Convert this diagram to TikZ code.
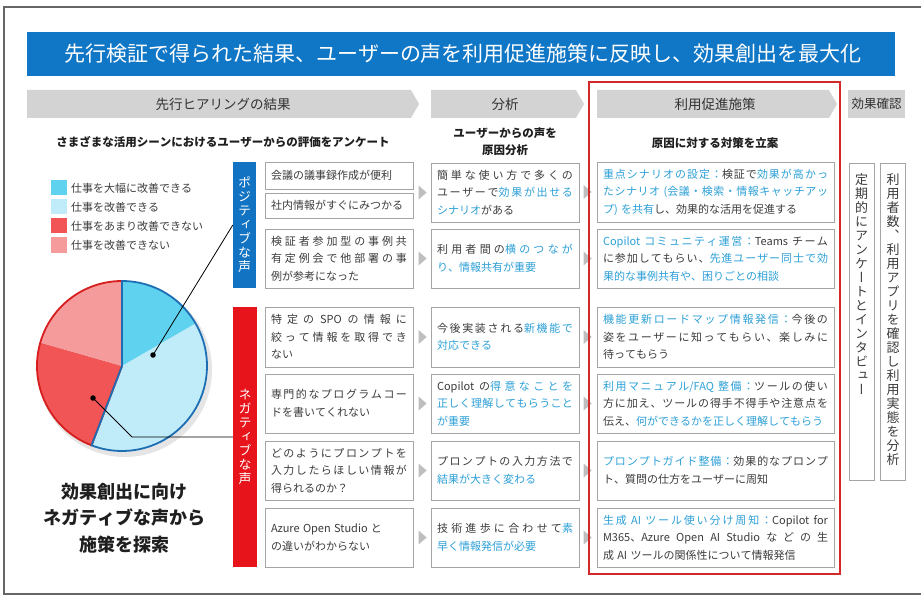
\documentclass[tikz,border=0pt]{standalone}
\usepackage{fontspec}
\setmainfont{Noto Sans CJK JP}
\newfontfamily\vjp[RawFeature=+vert]{Noto Sans CJK JP}
\XeTeXinterchartokenstate=1
\newcount\cjkc
\def\setcjkclass#1#2{\cjkc=#1\relax\loop\ifnum\cjkc<#2\relax\XeTeXcharclass\cjkc=1\relax\advance\cjkc by 1\relax\repeat}
\setcjkclass{"3000}{"3100}
\setcjkclass{"4E00}{"A000}
\setcjkclass{"FF00}{"FFF0}
\XeTeXinterchartoks 1 1 = {\hskip 0pt plus 3pt\relax}
\tolerance=9999 \hbadness=10000 \hfuzz=3pt
\newskip\boxspace
\boxspace=3.3pt plus 1.5pt minus 0.5pt
\newcommand\boxfont{\fontsize{11}{17.5}\selectfont\spaceskip\boxspace}
\definecolor{ttlblue}{RGB}{16,118,198}
\definecolor{hdrgray}{RGB}{211,211,211}
\definecolor{boxgray}{RGB}{165,165,165}
\definecolor{txt}{RGB}{60,60,60}
\definecolor{hlc}{RGB}{45,160,215}
\definecolor{posblue}{RGB}{18,115,195}
\definecolor{negred}{RGB}{232,20,27}
\definecolor{frred}{RGB}{210,40,40}
\definecolor{pcyan}{RGB}{95,210,240}
\definecolor{plcyan}{RGB}{192,236,250}
\definecolor{pred}{RGB}{242,85,85}
\definecolor{plred}{RGB}{245,155,155}
\definecolor{pieblue}{RGB}{30,110,180}
\definecolor{piered}{RGB}{215,30,30}
\definecolor{arrgray}{RGB}{190,190,190}
\newcommand\hlt[1]{\textcolor{hlc}{#1}}
\makeatletter
\newcommand\vtxt[1]{\vbox{\@tfor\vch:=#1\do{\hbox to 1em{\hss\vch\hss}}}}
\makeatother
\begin{document}
\begin{tikzpicture}[x=1pt,y=-1pt,
  box/.style={draw=boxgray, line width=0.8pt, fill=white, align=justify, text=txt,
    font=\boxfont, inner xsep=6pt, inner ysep=1pt, text width=136pt, minimum height=#1},
  pbox/.style={box=#1, text width=225pt},
  hdrtx/.style={text=black!80, font=\fontsize{13.5}{16}\selectfont},
  sub/.style={text=black!88, font=\bfseries\fontsize{11.5}{17}\selectfont, align=center},
  legsq/.style={minimum width=16pt, minimum height=15pt, inner sep=0pt},
  legtx/.style={text=txt, font=\fontsize{11}{13}\selectfont, anchor=west, inner sep=0pt},
  vbar/.style={inner sep=0pt, text=white, font=\vjp\fontsize{13}{14}\selectfont},
  vbx/.style={draw=boxgray, line width=0.8pt, fill=white, minimum width=25pt, minimum height=317pt, inner sep=0pt},
  vtx/.style={anchor=north, inner sep=0pt, text=txt, font=\vjp\fontsize{13}{14}\selectfont},
  dot/.style={circle, fill=black, inner sep=0pt, minimum size=5.5pt},
  ptr/.style={draw=black, line width=0.8pt},
  tri/.style={fill=arrgray}]
\useasboundingbox (0,0) rectangle (921,596);
\fill[white] (0,0) rectangle (921,596);
\draw[black!60, line width=1.2pt] (921,7) -- (4,7) -- (4,594) -- (921,594);

% title
\fill[ttlblue] (27,32) rectangle (895,76);
\node[text=white, font=\fontsize{21}{25}\selectfont] (title) at (463,54) {先行検証で得られた結果、ユーザーの声を利用促進施策に反映し、効果創出を最大化};

% headers
\fill[hdrgray] (27,90) -- (411,90) -- (419,104) -- (411,118) -- (27,118) -- cycle;
\fill[hdrgray] (431,90) -- (576,90) -- (584,104) -- (576,118) -- (431,118) -- cycle;
\fill[hdrgray] (597,90) -- (829,90) -- (837,104) -- (829,118) -- (597,118) -- cycle;
\fill[hdrgray] (848,90) rectangle (905,118);
\node[hdrtx] (h1) at (223,104) {先行ヒアリングの結果};
\node[hdrtx] (h2) at (505,104) {分析};
\node[hdrtx] (h3) at (715,104) {利用促進施策};
\node[hdrtx, font=\fontsize{12.5}{15}\selectfont] (h4) at (876.5,104) {効果確認};

% subtitles
\node[sub] (s1) at (223,142) {さまざまな活用シーンにおけるユーザーからの評価をアンケート};
\node[sub] (s2) at (505,142) {ユーザーからの声を\\原因分析};
\node[sub] (s3) at (715,143) {原因に対する対策を立案};

% legend
\node[legsq, fill=pcyan] (lg1) at (59,188) {};
\node[legsq, fill=plcyan] (lg2) at (59,207) {};
\node[legsq, fill=pred] (lg3) at (59,226) {};
\node[legsq, fill=plred] (lg4) at (59,245) {};
\node[legtx] (lt1) at (71,188) {仕事を大幅に改善できる};
\node[legtx] (lt2) at (71,207) {仕事を改善できる};
\node[legtx] (lt3) at (71,226) {仕事をあまり改善できない};
\node[legtx] (lt4) at (71,245) {仕事を改善できない};

% pie
\coordinate (pc) at (122,366);
\fill[black, opacity=0.10] (125,370) circle[radius=87];
\fill[pcyan] (pc) -- ++(-90:85) arc[start angle=-90, end angle=-30, radius=85] -- cycle;
\fill[plcyan] (pc) -- ++(-30:85) arc[start angle=-30, end angle=111, radius=85] -- cycle;
\fill[pred] (pc) -- ++(111:85) arc[start angle=111, end angle=196, radius=85] -- cycle;
\fill[plred] (pc) -- ++(196:85) arc[start angle=196, end angle=270, radius=85] -- cycle;
\draw[piered, line width=1.8pt, line join=round] (pc) -- ++(111:85) arc[start angle=111, end angle=270, radius=85] -- cycle;
\draw[pieblue, line width=1.8pt, line join=round] (pc) -- ++(-90:85) arc[start angle=-90, end angle=111, radius=85] -- cycle;

% bars
\node[vbar, fill=posblue, minimum width=23pt, minimum height=126pt] (posbar) at (244.5,225) {\vtxt{ポジティブな声}};
\node[vbar, fill=negred, minimum width=24pt, minimum height=260pt] (negbar) at (245,437) {\vtxt{ネガティブな声}};

% pointers
\node[dot] (dP) at (153,355) {};
\node[dot] (dN) at (93,398) {};
\coordinate (nbend) at (132,437);
\draw[ptr] (dP.center) -- (posbar.west);
\draw[ptr] (dN.center) -- (nbend) -- (negbar.west);

% left column
\node[box=27pt] (l1) at (339,175.5) {会議の議事録作成が便利};
\node[box=25pt] (l2) at (339,205.5) {社内情報がすぐにみつかる};
\node[box=59pt] (l3) at (339,258.5) {検証者参加型の事例共\linebreak 有定例会で他部署の事\linebreak 例が参考になった};
\node[box=60pt] (l4) at (339,337) {特定の SPO の情報に\linebreak 絞って情報を取得でき\linebreak ない};
\node[box=59pt] (l5) at (339,403.5) {専門的なプログラムコー\linebreak ドを書いてくれない};
\node[box=59pt] (l6) at (339,470.5) {どのようにプロンプトを\linebreak 入力したらほしい情報が\linebreak 得られるのか？};
\node[box=59pt] (l7) at (339,537.5) {Azure Open Studio と\newline の違いがわからない};

% analysis column
\node[box=59pt] (a1) at (505,192.5) {簡単な使い方で多くの\linebreak ユーザーで\hlt{効果が出せる}\linebreak \hlt{シナリオ}がある};
\node[box=59pt] (a2) at (505,258.5) {利用者間の\hlt{横のつなが}\linebreak \hlt{り、情報共有が重要}};
\node[box=60pt] (a3) at (505,337) {今後実装される\hlt{新機能で}\linebreak \hlt{対応できる}};
\node[box=59pt] (a4) at (505,403.5) {Copilot の\hlt{得意なことを}\linebreak \hlt{正しく理解してもらうこと}\linebreak \hlt{が重要}};
\node[box=59pt] (a5) at (505,470.5) {プロンプトの入力方法で\linebreak \hlt{結果が大きく変わる}};
\node[box=59pt] (a6) at (505,537.5) {技術進歩に合わせて\hlt{素}\linebreak \hlt{早く情報発信が必要}};

% policy column
\node[pbox=60pt] (p1) at (715.5,192) {\hlt{重点シナリオの設定：}検証で\hlt{効果が高かっ}\linebreak \hlt{たシナリオ (会議・検索・情報キャッチアッ}\linebreak \hlt{プ) を共有}し、効果的な活用を促進する};
\node[pbox=59pt] (p2) at (715.5,258.5) {\hlt{Copilot コミュニティ運営：}Teams チーム\linebreak に参加してもらい、\hlt{先進ユーザー同士で効}\linebreak \hlt{果的な事例共有や、困りごとの相談}};
\node[pbox=60pt] (p3) at (715.5,337) {\hlt{機能更新ロードマップ情報発信：}今後の\linebreak 姿をユーザーに知ってもらい、楽しみに\linebreak 待ってもらう};
\node[pbox=59pt] (p4) at (715.5,403.5) {\hlt{利用マニュアル/FAQ 整備：}ツールの使い\linebreak 方に加え、ツールの得手不得手や注意点を\linebreak 伝え、\hlt{何ができるかを正しく理解してもらう}};
\node[pbox=59pt] (p5) at (715.5,470.5) {\hlt{プロンプトガイド整備：}効果的なプロンプ\linebreak ト、質問の仕方をユーザーに周知};
\node[pbox=59pt] (p6) at (715.5,537.5) {\hlt{生成 AI ツール使い分け周知：}Copilot for\linebreak M365、Azure Open AI Studio などの生\linebreak 成 AI ツールの関係性について情報発信};

% small arrows
\foreach \n in {a1,a2,a3,a4,a5,a6}{
  \fill[tri] ([xshift=-4pt]\n.west) -- ++(-8,-7) -- ++(0,14) -- cycle;
}
\foreach \n in {p1,p2,p3,p4,p5,p6}{
  \fill[tri] ([xshift=-5pt]p1.west |- \n.west) -- ++(-8,-7) -- ++(0,14) -- cycle;
}

% red frame
\draw[frred, line width=2.2pt] (589,82) rectangle (840,574);

% effect check
\node[vbx] (r1) at (861.5,321.5) {};
\node[vbx] (r2) at (893,321.5) {};
\node[vtx] (r1t) at ([yshift=-11pt]r1.north) {\vtxt{定期的にアンケートとインタビュー}};
\node[vtx] (r2t) at ([yshift=-11pt]r2.north) {\vtxt{利用者数、利用アプリを確認し利用実態を分析}};

% bottom-left message
\node[align=center, text=black!88, font=\bfseries\fontsize{18}{26.5}\selectfont] (msg) at (124,518) {効果創出に向け\\ネガティブな声から\\施策を探索};
\end{tikzpicture}
\end{document}
